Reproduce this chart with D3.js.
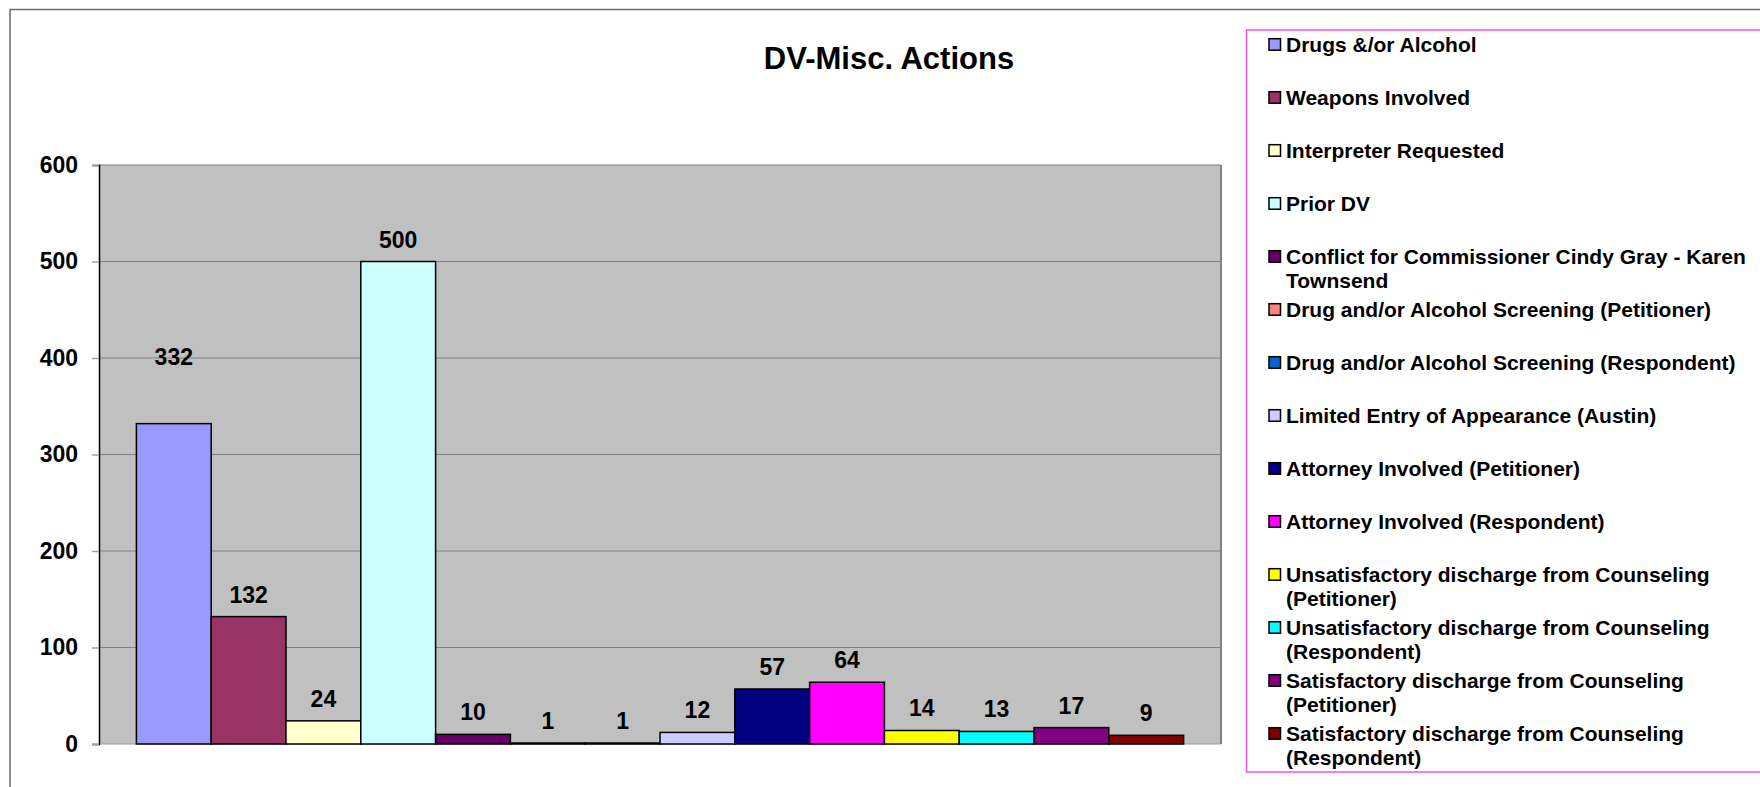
<!DOCTYPE html>
<html>
<head>
<meta charset="utf-8">
<script src="https://cdn.jsdelivr.net/npm/d3@7"></script>
<style>
  body { margin: 0; background: #fff; }
  text { font-family: Arial, 'Liberation Sans', sans-serif; font-weight: bold; fill: #000; }
</style>
</head>
<body>
<div id="chart"></div>
<script>
const series = [
  'Drugs &/or Alcohol',
  'Weapons Involved',
  'Interpreter Requested',
  'Prior DV',
  'Conflict for Commissioner Cindy Gray - Karen Townsend',
  'Drug and/or Alcohol Screening (Petitioner)',
  'Drug and/or Alcohol Screening (Respondent)',
  'Limited Entry of Appearance (Austin)',
  'Attorney Involved (Petitioner)',
  'Attorney Involved (Respondent)',
  'Unsatisfactory discharge from Counseling (Petitioner)',
  'Unsatisfactory discharge from Counseling (Respondent)',
  'Satisfactory discharge from Counseling (Petitioner)',
  'Satisfactory discharge from Counseling (Respondent)'
]
const values = [332, 132, 24, 500, 10, 1, 1, 12, 57, 64, 14, 13, 17, 9]
const colors = ['#9999ff', '#993366', '#ffffcc', '#ccffff', '#660066', '#ff8080', '#0066cc',
  '#ccccff', '#000080', '#ff00ff', '#ffff00', '#00ffff', '#800080', '#800000']
const yTicks = [0, 100, 200, 300, 400, 500, 600]

const width = 1760
const height = 787
const plot = { left: 99, right: 1221, top: 165, bottom: 744 }

const svg = d3.select('#chart').append('svg')
  .attr('width', width)
  .attr('height', height)

// outer chart frame
svg.append('rect')
  .attr('x', 10).attr('y', 9.5)
  .attr('width', width + 20).attr('height', height + 20)
  .attr('fill', '#fff').attr('stroke', '#6b6b6b').attr('stroke-width', 1.5)

svg.append('text')
  .attr('x', 889).attr('y', 69)
  .attr('text-anchor', 'middle')
  .style('font-size', '31px')
  .text('DV-Misc. Actions')

const x = d3.scaleBand().domain(series).range([plot.left, plot.right]).paddingInner(0).paddingOuter(0.5)
const y = d3.scaleLinear().domain([0, 600]).range([plot.bottom, plot.top])

svg.append('rect')
  .attr('x', plot.left).attr('y', plot.top)
  .attr('width', plot.right - plot.left).attr('height', plot.bottom - plot.top)
  .attr('fill', '#c0c0c0')

svg.append('g')
  .selectAll('line')
  .data(yTicks.filter(d => d > 0))
  .enter()
  .append('line')
  .attr('x1', plot.left).attr('x2', plot.right)
  .attr('y1', d => y(d)).attr('y2', d => y(d))
  .attr('stroke', '#808080').attr('stroke-width', 1.2)

// right and bottom edges of plot
svg.append('line')
  .attr('x1', plot.right).attr('x2', plot.right)
  .attr('y1', plot.top).attr('y2', plot.bottom)
  .attr('stroke', '#808080').attr('stroke-width', 2)
svg.append('line')
  .attr('x1', plot.left).attr('x2', plot.right)
  .attr('y1', plot.bottom).attr('y2', plot.bottom)
  .attr('stroke', '#a0a0a0').attr('stroke-width', 1)

const yAxis = svg.append('g')
  .attr('transform', `translate(${plot.left} 0)`)
  .call(d3.axisLeft(y).tickValues(yTicks).tickSize(7).tickPadding(14))
yAxis.select('.domain').attr('stroke', '#000').attr('stroke-width', 1.5)
yAxis.selectAll('.tick line').attr('stroke', '#a0a0a0').attr('stroke-width', 1.5)
yAxis.selectAll('.tick text')
  .style('font-size', '23px')
  .style('font-family', 'Arial, "Liberation Sans", sans-serif')
  .style('font-weight', 'bold')
  .attr('fill', '#000')

svg.append('g')
  .selectAll('rect')
  .data(values)
  .enter()
  .append('rect')
  .attr('x', (d, i) => x(series[i]))
  .attr('y', d => y(d))
  .attr('width', x.bandwidth())
  .attr('height', d => y(0) - y(d))
  .attr('fill', (d, i) => colors[i])
  .attr('stroke', '#000')
  .attr('stroke-width', 1.5)

svg.append('g')
  .selectAll('text')
  .data(values)
  .enter()
  .append('text')
  .attr('x', (d, i) => x(series[i]) + x.bandwidth() / 2)
  .attr('y', (d, i) => {
    // the first label was dragged up in the original
    if (i === 0) return y(d) - 59
    return y(d) - 14
  })
  .attr('text-anchor', 'middle')
  .style('font-size', '23px')
  .text(d => d)

// legend
const legend = svg.append('g')
svg.append('rect')
  .attr('x', 1246.5).attr('y', 30)
  .attr('width', 600).attr('height', 742)
  .attr('fill', 'none').attr('stroke', '#f050f0').attr('stroke-width', 1.5)

const rowGap = 53
const textX = 1286
const maxTextWidth = 485

series.forEach((name, i) => {
  const base = 51.7 + i * rowGap
  legend.append('rect')
    .attr('x', 1269).attr('y', base - 13)
    .attr('width', 11.5).attr('height', 11.5)
    .attr('fill', colors[i]).attr('stroke', '#000').attr('stroke-width', 1.5)

  const text = legend.append('text').style('font-size', '21px')
  const words = name.split(' ')
  let line = []
  let lineNo = 0
  let tspan = text.append('tspan').attr('x', textX).attr('y', base)
  words.forEach(w => {
    line.push(w)
    tspan.text(line.join(' '))
    if (tspan.node().getComputedTextLength() > maxTextWidth && line.length > 1) {
      line.pop()
      tspan.text(line.join(' '))
      line = [w]
      lineNo++
      tspan = text.append('tspan').attr('x', textX).attr('y', base + lineNo * 24.5).text(w)
    }
  })
})
</script>
</body>
</html>
